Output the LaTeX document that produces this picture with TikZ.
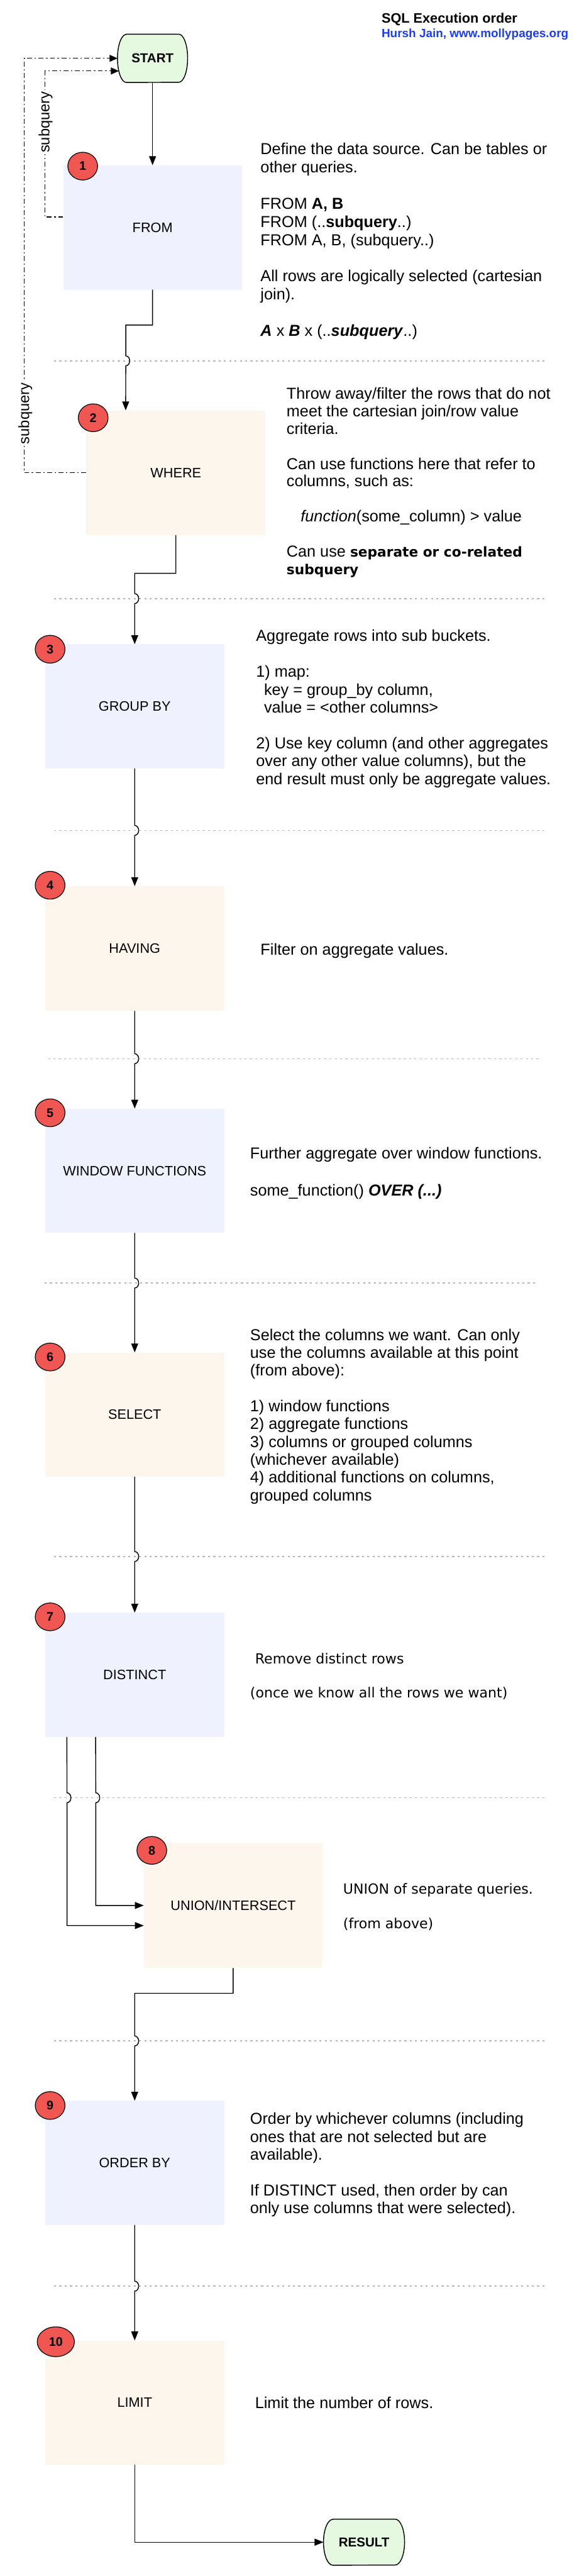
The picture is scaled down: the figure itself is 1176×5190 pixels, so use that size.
\documentclass[tikz,border=0pt]{standalone}
\usepackage{fontspec}
\setmainfont{Liberation Sans}
\newfontfamily\dvs{DejaVu Sans}
\usetikzlibrary{arrows.meta,shapes.geometric,calc}
\pgfdeclarelayer{bg}
\pgfsetlayers{bg,main}

\definecolor{lav}{HTML}{EFF2FE}
\definecolor{cream}{HTML}{FDF6EC}
\definecolor{termgreen}{HTML}{E4F9E0}
\definecolor{badgered}{HTML}{F05752}
\definecolor{linkblue}{HTML}{1A3DFF}
\definecolor{sepgray}{HTML}{B4B4B4}

\newcommand{\fs}[2]{\fontsize{#1}{#2}\selectfont}
\newcommand{\st}{\rule{0pt}{26pt}}

\tikzset{
  stepbox/.style={rectangle, inner sep=0pt, minimum width=361pt, minimum height=250pt, font=\fs{27.5}{33}},
  lavbox/.style={stepbox, fill=lav},
  creambox/.style={stepbox, fill=cream},
  badge/.style={ellipse, draw=black, line width=1.5pt, fill=badgered, inner sep=0pt, minimum width=60pt, minimum height=56pt, font=\bfseries\fs{25}{30}},
  term/.style={rectangle, inner sep=0pt, font=\bfseries\fs{26}{31}},
  termline/.style={line width=1.8pt, fill=termgreen},
  conn/.style={line width=1.8pt, draw=black},
  arr/.style={conn, -{Triangle[length=18pt,width=14pt]}},
  dd/.style={line width=1.6pt, dash pattern=on 10pt off 5pt on 3pt off 5pt},
  ddarr/.style={dd, -{Triangle[length=16pt,width=14pt]}},
  sep/.style={draw=sepgray, line width=2pt, dash pattern=on 4pt off 6.7pt},
  desc/.style={anchor=north west, align=left, inner sep=0pt},
  note/.style={anchor=north west, align=left, inner sep=0pt, font=\dvs\fs{28}{34}},
  sublabel/.style={fill=white, inner sep=3pt, rotate=90, font=\fs{30}{36}},
}

\begin{document}
\begin{tikzpicture}[x=1pt,y=-1pt]
\useasboundingbox (0,0) rectangle (1176,5190);
\begin{pgfonlayer}{bg}
\fill[white] (0,0) rectangle (1176,5190);
\end{pgfonlayer}

% separators
\draw[sep] (109,727) -- (1101,727);
\draw[sep] (109,1206) -- (1101,1206);
\draw[sep] (109,1673) -- (1101,1673);
\draw[sep] (97,2133) -- (1091,2133);
\draw[sep] (90,2585) -- (1084,2585);
\draw[sep] (109,3136) -- (1101,3136);
\draw[sep] (109,3622) -- (1101,3622);
\draw[sep] (109,4112) -- (1101,4112);
\draw[sep] (109,4606) -- (1101,4606);

% title
\node[anchor=base west, inner sep=0pt, font=\bfseries\fs{27.5}{33}] (title) at (769,46) {SQL Execution order};
\node[anchor=base west, inner sep=0pt, font=\bfseries\fs{24}{29}, text=linkblue] (author) at (769,75) {Hursh Jain, www.mollypages.org};

% terminals
\node[term, minimum width=141pt, minimum height=97pt] (start) at (307.5,117.5) {START};
\node[term, minimum width=163pt, minimum height=92.5pt] (result) at (733.75,5121.8) {RESULT};
\begin{pgfonlayer}{bg}
\draw[termline] ([xshift=18pt]start.north west) -- ([xshift=-18pt]start.north east)
  arc[start angle=90, end angle=-90, x radius=18pt, y radius=48.5pt]
  -- ([xshift=18pt]start.south west)
  arc[start angle=270, end angle=90, x radius=18pt, y radius=48.5pt] -- cycle;
\draw[termline] ([xshift=19pt]result.north west) -- ([xshift=-19pt]result.north east)
  arc[start angle=90, end angle=-90, x radius=19pt, y radius=46.25pt]
  -- ([xshift=19pt]result.south west)
  arc[start angle=270, end angle=90, x radius=19pt, y radius=46.25pt] -- cycle;
\end{pgfonlayer}

% step boxes
\node[lavbox, minimum width=360pt, minimum height=250.5pt] (from) at (307.5,458.25) {FROM};
\node[creambox, minimum height=251pt] (where) at (354.5,952.5) {WHERE};
\node[lavbox] (groupby) at (271.5,1423) {GROUP BY};
\node[creambox, minimum height=251pt] (having) at (271.5,1911) {HAVING};
\node[lavbox] (window) at (271.5,2358.75) {WINDOW FUNCTIONS};
\node[creambox] (select) at (271.5,2850) {SELECT};
\node[lavbox] (distinct) at (271.5,3374.25) {DISTINCT};
\node[creambox, minimum width=360pt, minimum height=252pt] (union) at (470,3839) {UNION/INTERSECT};
\node[lavbox] (orderby) at (271.5,4357.6) {ORDER BY};
\node[creambox, minimum height=249.5pt] (limit) at (271.5,4840.3) {LIMIT};

% connectors
\draw[arr] (start.south) -- (from.north);
\draw[arr] (from.south) |- (253.5,655) -- (253.5,717)
  arc[start angle=90, end angle=-90, x radius=8pt, y radius=10pt]
  -- ([xshift=79.5pt]where.north west);
\draw[arr] (where.south) |- (271.5,1155) -- (271.5,1196)
  arc[start angle=90, end angle=-90, x radius=8pt, y radius=10pt]
  -- (groupby.north);
\draw[arr] (groupby.south) -- (271.5,1663)
  arc[start angle=90, end angle=-90, x radius=8pt, y radius=10pt]
  -- (having.north);
\draw[arr] (having.south) -- (271.5,2123)
  arc[start angle=90, end angle=-90, x radius=8pt, y radius=10pt]
  -- (window.north);
\draw[arr] (window.south) -- (271.5,2575)
  arc[start angle=90, end angle=-90, x radius=8pt, y radius=10pt]
  -- (select.north);
\draw[arr] (select.south) -- (271.5,3126)
  arc[start angle=90, end angle=-90, x radius=8pt, y radius=10pt]
  -- (distinct.north);
\draw[arr] ([xshift=44pt]distinct.south west) -- (135,3612)
  arc[start angle=90, end angle=-90, x radius=8pt, y radius=10pt]
  -- (135,3879.5) -- ([yshift=-40.5pt]union.west);
\draw[arr] ([xshift=102pt]distinct.south west) -- (193,3612)
  arc[start angle=90, end angle=-90, x radius=8pt, y radius=10pt]
  -- (193,3839) -- (union.west);
\draw[arr] (union.south) |- (271.5,4016) -- (271.5,4102)
  arc[start angle=90, end angle=-90, x radius=8pt, y radius=10pt]
  -- (orderby.north);
\draw[arr] (orderby.south) -- (271.5,4596)
  arc[start angle=90, end angle=-90, x radius=8pt, y radius=10pt]
  -- (limit.north);
\draw[arr] (limit.south) |- (result.west);

% subquery loops
\draw[ddarr] ([yshift=21pt]from.west) -- ++(-36.5,0) |- ([shift={(2.7pt,-25.5pt)}]start.west);
\draw[ddarr] (where.west) -- ++(-125,0) |- (start.west);
\node[sublabel] (sq1) at (92,246) {subquery};
\node[sublabel] (sq2) at (51,833) {subquery};

% badges
\node[badge] (b1) at (166.7,334.7) {1};
\node[badge] (b2) at (187.8,841.7) {2};
\node[badge] (b3) at (101,1308) {3};
\node[badge] (b4) at (101,1783.5) {4};
\node[badge] (b5) at (101,2242) {5};
\node[badge] (b6) at (101,2734) {6};
\node[badge] (b7) at (101,3257.5) {7};
\node[badge] (b8) at (306,3728) {8};
\node[badge] (b9) at (101,4242) {9};
\node[badge, minimum width=75pt, minimum height=60pt] (b10) at (112.5,4718) {10};

% descriptions
\node[desc, font=\fs{32}{36.6}] (d1) at (525,285) {\st Define the data source. Can be tables or\\
other queries.\\[36.6pt]
FROM \textbf{A, B}\\
FROM (..\textbf{subquery}..)\\
FROM A, B, (subquery..)\\[36.6pt]
All rows are logically selected (cartesian\\
join).\\[36.6pt]
\textbf{\textit{A}} x \textbf{\textit{B}} x (..\textbf{\textit{subquery}}..)};

\node[desc, font=\fs{32}{35.3}] (d2) at (577.5,778) {\st Throw away/filter the rows that do not\\
meet the cartesian join/row value\\
criteria.\\[35.3pt]
Can use functions here that refer to\\
columns, such as:\\[35.3pt]
\hspace*{28.5pt}\textit{function}(some\_column) > value\\[35.3pt]
Can use {\dvs\bfseries\fs{27.5}{35.3}separate or co-related}\\
{\dvs\bfseries\fs{27.5}{35.3}subquery}};

\node[desc, font=\fs{32}{36}] (d3) at (516,1266) {\st Aggregate rows into sub buckets.\\[36pt]
1) map:\\
\hspace*{16pt}key = group\_by column,\\
\hspace*{16pt}value = <other columns>\\[36pt]
2) Use key column (and other aggregates\\
over any other value columns), but the\\
end result must only be aggregate values.};

\node[anchor=base west, inner sep=0pt, font=\fs{32}{36}] (d4) at (525,1924) {Filter on aggregate values.};

\node[desc, font=\fs{32}{37.35}] (d5) at (504,2308) {\st Further aggregate over window functions.\\[37.35pt]
some\_function() \textbf{\textit{OVER (...)}}};

\node[desc, font=\fs{32}{35.9}] (d6) at (504,2674) {\st Select the columns we want. Can only\\
use the columns available at this point\\
(from above):\\[35.9pt]
1) window functions\\
2) aggregate functions\\
3) columns or grouped columns\\
(whichever available)\\
4) additional functions on columns,\\
grouped columns};

\node[note] (d7) at (504,3326) {\st\hspace*{10pt}Remove distinct rows\\[34pt]
(once we know all the rows we want)};

\node[note, font=\dvs\fs{28}{34.5}] (d8) at (691.5,3790) {\st UNION of separate queries.\\[34.5pt]
(from above)};

\node[desc, font=\fs{32}{35.9}] (d9) at (504,4253.6) {\st Order by whichever columns (including\\
ones that are not selected but are\\
available).\\[35.9pt]
If DISTINCT used, then order by can\\
only use columns that were selected).};

\node[anchor=base west, inner sep=0pt, font=\fs{32}{36}] (d10) at (514,4852) {Limit the number of rows.};
\end{tikzpicture}
\end{document}
